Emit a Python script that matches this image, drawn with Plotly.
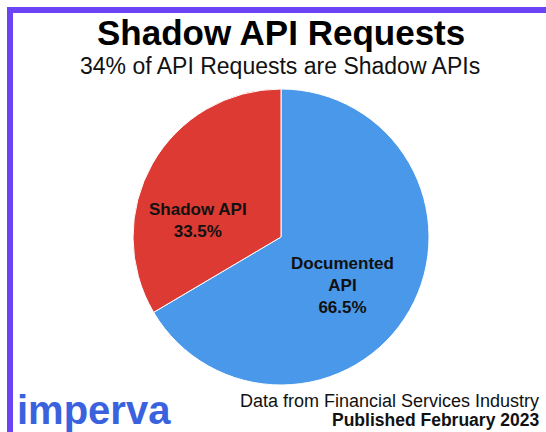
import plotly.graph_objects as go

labels = ["Documented<br>API", "Shadow API"]
values = [66.5, 33.5]
colors = ["#4a98ea", "#dc3a32"]

title = "Shadow API Requests"
subtitle = "34% of API Requests are Shadow APIs"
source = "Data from Financial Services Industry"
published = "Published February 2023"

W, H = 546, 432
cx, cy, r = 281, 237, 148

fig = go.Figure(go.Pie(
    labels=labels,
    values=values,
    sort=False,
    direction="clockwise",
    rotation=0,
    marker=dict(colors=colors, line=dict(color="white", width=1)),
    textinfo="none",
    showlegend=False,
    hoverinfo="label+value",
    domain=dict(x=[(cx - r) / W, (cx + r) / W], y=[(H - cy - r) / H, (H - cy + r) / H]),
))

# slice labels placed by hand (pie's auto placement differs from the original)
label_pos = [(342, 285), (198, 220)]
ann = []
for lab, val, (px, py) in zip(labels, values, label_pos):
    ann.append(dict(text="<b>%s<br>%.1f%%</b>" % (lab, val), x=px / W, y=1 - py / H,
                    font=dict(size=17, color="#111")))

ann += [
    dict(text="<b>" + title + "</b>", x=281 / W, y=1 - 32 / H, font=dict(size=35, color="black")),
    dict(text=subtitle, x=280 / W, y=1 - 66 / H, font=dict(size=23, color="#111")),
    dict(text=source, x=541 / W, y=1 - 401 / H, xanchor="right", font=dict(size=18, color="#111")),
    dict(text="<b>" + published + "</b>", x=541 / W, y=1 - 420 / H, xanchor="right", font=dict(size=17.5, color="#111")),
    dict(text="<b>imperva</b>", x=15 / W, y=1 - 410 / H, xanchor="left", font=dict(size=40, color="#3b62de")),
]
for a in ann:
    a.update(xref="paper", yref="paper", showarrow=False, yanchor="middle")
    a.setdefault("xanchor", "center")

border = "#6b45f5"
fig.update_layout(
    width=W, height=H,
    margin=dict(l=0, r=0, t=0, b=0),
    paper_bgcolor="white",
    font=dict(family="Liberation Sans, Arial"),
    annotations=ann,
    shapes=[
        dict(type="line", xref="paper", yref="paper", x0=7 / W, x1=1.02, y0=1 - 10 / H, y1=1 - 10 / H,
             line=dict(color=border, width=6)),
        dict(type="line", xref="paper", yref="paper", x0=10 / W, x1=10 / W, y0=1 - 7 / H, y1=-0.02,
             line=dict(color=border, width=6)),
    ],
)

fig.write_html("out.html", config={"displayModeBar": False},
               post_script="document.body.style.margin='0';")
